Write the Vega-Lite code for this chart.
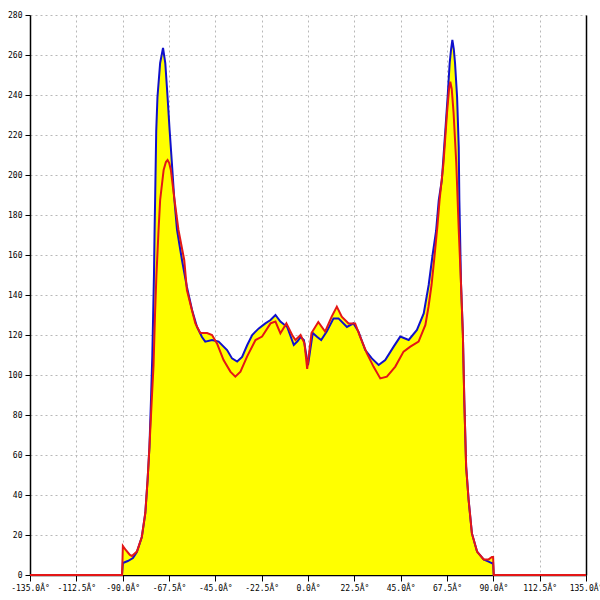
{
  "$schema": "https://vega.github.io/schema/vega-lite/v6.json",
  "width": 556,
  "height": 560,
  "autosize": "none",
  "padding": {"left": 30, "top": 15, "right": 14, "bottom": 25},
  "background": "white",
  "config": {
    "view": {"stroke": null},
    "axis": {
      "labelFont": "DejaVu Sans Mono",
      "labelFontSize": 8,
      "labelColor": "#000000",
      "domainColor": "#000000",
      "domainWidth": 1.5,
      "tickColor": "#000000",
      "gridColor": "#b8b8b8",
      "gridDash": [2, 3],
      "gridWidth": 1,
      "title": null
    }
  },
  "data": {
    "values": [
      {"s":"b","a":-135,"v":0},{"s":"b","a":-90.3,"v":0},{"s":"b","a":-89.9,"v":6},{"s":"b","a":-87.5,"v":7},{"s":"b","a":-85,"v":8.5},{"s":"b","a":-83.1,"v":11.5},{"s":"b","a":-80.7,"v":19},{"s":"b","a":-79,"v":31},{"s":"b","a":-77.9,"v":47.5},{"s":"b","a":-77,"v":64},{"s":"b","a":-76.2,"v":89},{"s":"b","a":-75.6,"v":110},{"s":"b","a":-75.2,"v":130},{"s":"b","a":-74.8,"v":150},{"s":"b","a":-74.5,"v":172},{"s":"b","a":-74.2,"v":190},{"s":"b","a":-73.7,"v":222},{"s":"b","a":-73.1,"v":239},{"s":"b","a":-71.8,"v":256},{"s":"b","a":-70.4,"v":263.5},{"s":"b","a":-69.3,"v":256},{"s":"b","a":-68.2,"v":239},{"s":"b","a":-67.2,"v":222.5},{"s":"b","a":-66.1,"v":206},{"s":"b","a":-65,"v":189},{"s":"b","a":-63.6,"v":172.5},{"s":"b","a":-62,"v":162.5},{"s":"b","a":-61.2,"v":157.5},{"s":"b","a":-58.8,"v":144},{"s":"b","a":-56.3,"v":132.5},{"s":"b","a":-53.9,"v":124},{"s":"b","a":-51.5,"v":119},{"s":"b","a":-49.9,"v":116.7},{"s":"b","a":-46.6,"v":117.5},{"s":"b","a":-43.4,"v":116.7},{"s":"b","a":-39.3,"v":112.5},{"s":"b","a":-36.9,"v":108.3},{"s":"b","a":-34.4,"v":106.7},{"s":"b","a":-32,"v":109},{"s":"b","a":-29.5,"v":115},{"s":"b","a":-27.1,"v":120},{"s":"b","a":-23.9,"v":123.3},{"s":"b","a":-20.7,"v":125.8},{"s":"b","a":-18.2,"v":127.5},{"s":"b","a":-15.8,"v":130},{"s":"b","a":-13.4,"v":126.7},{"s":"b","a":-10.1,"v":124},{"s":"b","a":-6.9,"v":115},{"s":"b","a":-5,"v":117},{"s":"b","a":-3.6,"v":119},{"s":"b","a":-2,"v":117.5},{"s":"b","a":-1,"v":111},{"s":"b","a":0,"v":105},{"s":"b","a":1,"v":112},{"s":"b","a":2.3,"v":121},{"s":"b","a":4.5,"v":119},{"s":"b","a":6.4,"v":117.5},{"s":"b","a":9.1,"v":121.7},{"s":"b","a":12.4,"v":128.3},{"s":"b","a":14.8,"v":128.3},{"s":"b","a":18.9,"v":124},{"s":"b","a":22.1,"v":125.8},{"s":"b","a":24.5,"v":121.7},{"s":"b","a":27.8,"v":112.5},{"s":"b","a":31,"v":108.3},{"s":"b","a":34.3,"v":105},{"s":"b","a":37.5,"v":107.5},{"s":"b","a":41.6,"v":114.2},{"s":"b","a":44.8,"v":119.2},{"s":"b","a":48.9,"v":117.5},{"s":"b","a":52.9,"v":122.5},{"s":"b","a":56.2,"v":130.8},{"s":"b","a":58.6,"v":145},{"s":"b","a":60.5,"v":160},{"s":"b","a":62.2,"v":172},{"s":"b","a":63.5,"v":187.5},{"s":"b","a":65,"v":197.5},{"s":"b","a":66.7,"v":222.5},{"s":"b","a":67.8,"v":239},{"s":"b","a":68.8,"v":256},{"s":"b","a":69.5,"v":263},{"s":"b","a":70.1,"v":267.5},{"s":"b","a":70.8,"v":263},{"s":"b","a":71.4,"v":256},{"s":"b","a":72.4,"v":239},{"s":"b","a":73.2,"v":214},{"s":"b","a":73.5,"v":187.5},{"s":"b","a":73.8,"v":172.5},{"s":"b","a":74.3,"v":145.8},{"s":"b","a":75.2,"v":120.8},{"s":"b","a":75.9,"v":87.5},{"s":"b","a":76.8,"v":54.2},{"s":"b","a":78,"v":37.5},{"s":"b","a":79.6,"v":20.8},{"s":"b","a":82.1,"v":11.7},{"s":"b","a":85.3,"v":7.8},{"s":"b","a":87.7,"v":6.7},{"s":"b","a":89.5,"v":5.8},{"s":"b","a":89.9,"v":6},{"s":"b","a":90.2,"v":0},{"s":"b","a":135,"v":0},
      {"s":"r","a":-135,"v":0},{"s":"r","a":-90.3,"v":0},{"s":"r","a":-89.9,"v":14.5},{"s":"r","a":-88.5,"v":12.5},{"s":"r","a":-86.5,"v":10},{"s":"r","a":-85.5,"v":9.5},{"s":"r","a":-83.1,"v":11.7},{"s":"r","a":-80.7,"v":19},{"s":"r","a":-79,"v":31},{"s":"r","a":-77.9,"v":47.5},{"s":"r","a":-77,"v":64},{"s":"r","a":-75.8,"v":89},{"s":"r","a":-75,"v":105},{"s":"r","a":-74.3,"v":130},{"s":"r","a":-73.6,"v":150},{"s":"r","a":-72.6,"v":172},{"s":"r","a":-71.8,"v":187.5},{"s":"r","a":-70.1,"v":202.5},{"s":"r","a":-69,"v":206.5},{"s":"r","a":-68.2,"v":207.5},{"s":"r","a":-67.4,"v":206},{"s":"r","a":-66.6,"v":202.5},{"s":"r","a":-65,"v":189},{"s":"r","a":-62.9,"v":172.5},{"s":"r","a":-60.1,"v":157.5},{"s":"r","a":-58.8,"v":142.5},{"s":"r","a":-56.5,"v":133},{"s":"r","a":-54.7,"v":125.8},{"s":"r","a":-52.3,"v":121},{"s":"r","a":-49,"v":121},{"s":"r","a":-46.6,"v":120},{"s":"r","a":-44.2,"v":115.8},{"s":"r","a":-41,"v":107.5},{"s":"r","a":-37.7,"v":101.7},{"s":"r","a":-35.3,"v":99.2},{"s":"r","a":-32.8,"v":101.7},{"s":"r","a":-29.6,"v":109.2},{"s":"r","a":-25.5,"v":117.5},{"s":"r","a":-22.3,"v":119.2},{"s":"r","a":-18.2,"v":125.8},{"s":"r","a":-15.8,"v":126.7},{"s":"r","a":-13.4,"v":120.8},{"s":"r","a":-10.5,"v":125.8},{"s":"r","a":-7.7,"v":120},{"s":"r","a":-6.1,"v":117.5},{"s":"r","a":-3.6,"v":120},{"s":"r","a":-1.7,"v":115.8},{"s":"r","a":-0.4,"v":103},{"s":"r","a":1.7,"v":121},{"s":"r","a":5,"v":126.5},{"s":"r","a":8.3,"v":121.7},{"s":"r","a":11.5,"v":129.2},{"s":"r","a":14,"v":134.2},{"s":"r","a":16.4,"v":129.2},{"s":"r","a":19.7,"v":125.8},{"s":"r","a":22.9,"v":125.8},{"s":"r","a":25.3,"v":119.2},{"s":"r","a":28.6,"v":110.8},{"s":"r","a":31.8,"v":104.2},{"s":"r","a":35.1,"v":98.3},{"s":"r","a":38.3,"v":99.2},{"s":"r","a":42.4,"v":104.2},{"s":"r","a":46.4,"v":111.7},{"s":"r","a":49.7,"v":114.2},{"s":"r","a":53.7,"v":116.7},{"s":"r","a":57,"v":125},{"s":"r","a":58.5,"v":134},{"s":"r","a":60,"v":145},{"s":"r","a":61.5,"v":160},{"s":"r","a":62.8,"v":174},{"s":"r","a":63.9,"v":187.5},{"s":"r","a":65.8,"v":206},{"s":"r","a":67.5,"v":231},{"s":"r","a":68.5,"v":243},{"s":"r","a":69.1,"v":246.7},{"s":"r","a":69.8,"v":243},{"s":"r","a":70.7,"v":231},{"s":"r","a":72,"v":206},{"s":"r","a":73.2,"v":172.5},{"s":"r","a":74.3,"v":145.8},{"s":"r","a":75.2,"v":120.8},{"s":"r","a":75.9,"v":87.5},{"s":"r","a":76.8,"v":54.2},{"s":"r","a":78,"v":37.5},{"s":"r","a":79.6,"v":20.8},{"s":"r","a":82.1,"v":11.7},{"s":"r","a":85.3,"v":7.8},{"s":"r","a":87.7,"v":7.8},{"s":"r","a":89.3,"v":9},{"s":"r","a":89.9,"v":9},{"s":"r","a":90.2,"v":0},{"s":"r","a":135,"v":0}
    ]
  },
  "encoding": {
    "x": {
      "field": "a",
      "type": "quantitative",
      "scale": {"domain": [-135, 135], "nice": false, "zero": false},
      "axis": {
        "values": [-135, -112.5, -90, -67.5, -45, -22.5, 0, 22.5, 45, 67.5, 90, 112.5, 135],
        "labelExpr": "(datum.value < 0 ? '-' : '') + format(abs(datum.value), '.1f') + 'Â°'",
        "tickSize": 6,
        "labelPadding": 3,
        "labelFlush": false,
        "labelOverlap": false,
        "grid": true
      }
    }
  },
  "layer": [
    {
      "mark": {"type": "area", "color": "#ffff00", "opacity": 1},
      "encoding": {
        "detail": {"field": "s"},
        "y": {
          "field": "v",
          "type": "quantitative",
          "stack": null,
          "scale": {"domain": [0, 280], "nice": false},
          "axis": {
            "values": [0, 20, 40, 60, 80, 100, 120, 140, 160, 180, 200, 220, 240, 260, 280],
            "tickSize": 5,
            "labelPadding": 3,
            "labelFlush": false,
            "labelOverlap": false,
            "grid": true
          }
        }
      }
    },
    {
      "transform": [{"filter": "datum.s === 'b'"}],
      "mark": {"type": "line", "color": "#1010cc", "strokeWidth": 2},
      "encoding": {
        "y": {"field": "v", "type": "quantitative", "axis": null}
      }
    },
    {
      "transform": [{"filter": "datum.s === 'r'"}],
      "mark": {"type": "line", "color": "#e41616", "strokeWidth": 2},
      "encoding": {
        "y": {
          "field": "v",
          "type": "quantitative",
          "axis": {"orient": "right", "labels": false, "ticks": false, "grid": false, "domain": true}
        }
      }
    }
  ],
  "resolve": {"axis": {"y": "independent"}}
}
